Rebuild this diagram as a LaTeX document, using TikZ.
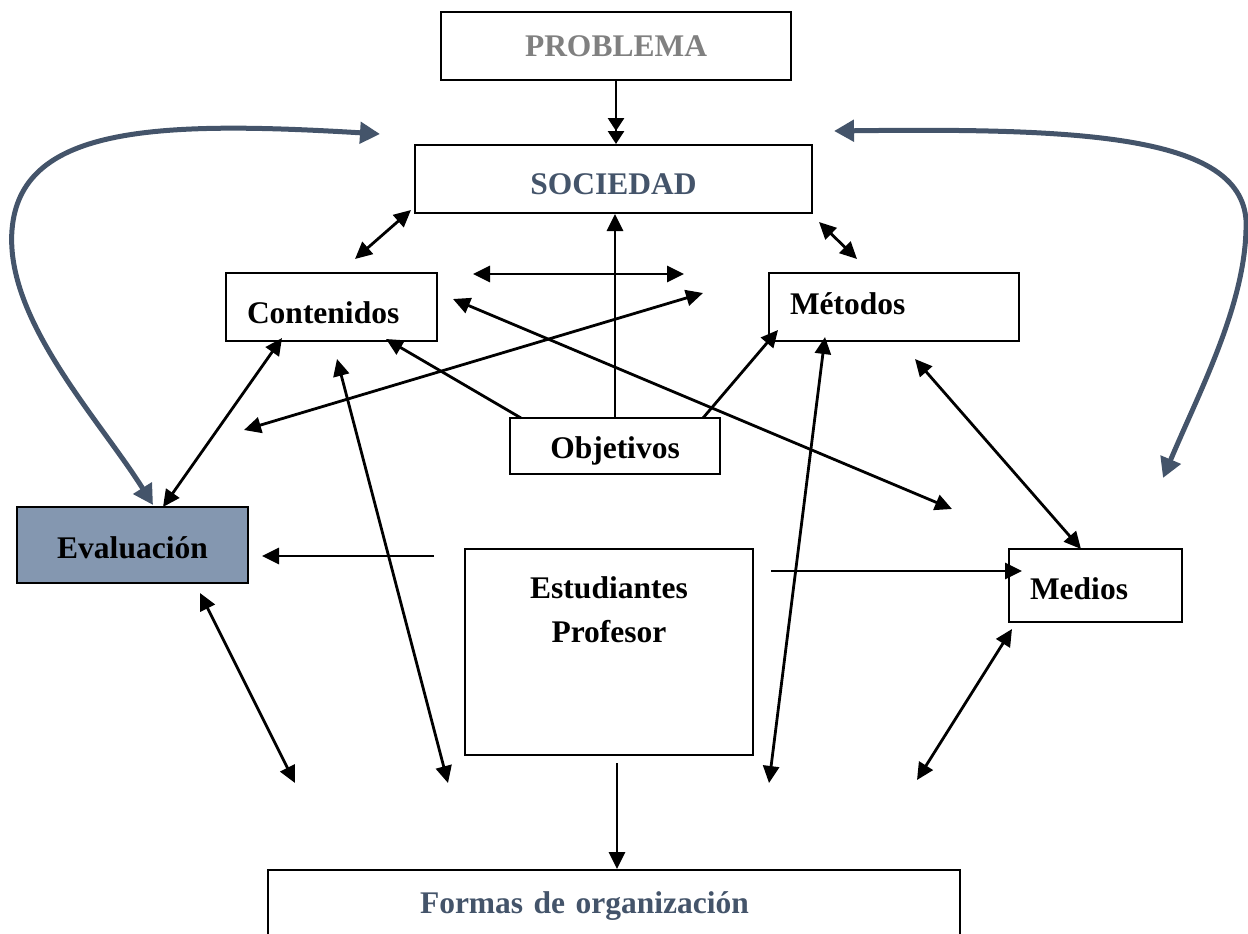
\documentclass[tikz,border=0pt]{standalone}
\usepackage{fontspec}
\setmainfont{Liberation Serif}
\usetikzlibrary{arrows.meta}
\definecolor{slate}{HTML}{44546A}
\definecolor{slatefill}{HTML}{8497B0}
\definecolor{probgray}{HTML}{808080}

\begin{document}
\begin{tikzpicture}[x=1pt, y=-1pt,
	box/.style={draw, line width=2pt, inner sep=0pt, font=\bfseries\fontsize{31.5}{38}\selectfont},
	txt/.style={inner sep=0pt, font=\bfseries\fontsize{31.5}{44}\selectfont},
	arr/.style={line width=2.8pt, -{Triangle[length=17pt,width=16pt]}},
	darr/.style={line width=2.8pt, {Triangle[length=17pt,width=16pt]}-{Triangle[length=17pt,width=16pt]}},
	bigarr/.style={draw=slate, line width=5pt, {Triangle[length=20pt,width=21pt]}-{Triangle[length=20pt,width=21pt]}}]
				\clip (0,0) rectangle (1248,934);
				% boxes
				\node[box, minimum width=350pt, minimum height=68pt, text=probgray] (prob) at (616,46) {PROBLEMA};
				\node[box, minimum width=397pt, minimum height=68pt, text=slate, text height=31pt, text depth=0pt] (soc) at (613.5,179) {SOCIEDAD};
				\node[box, minimum width=211pt, minimum height=68pt, text width=169pt, align=left, text height=32pt, text depth=0pt] (cont) at (331.5,307) {Contenidos};
				\node[box, minimum width=250pt, minimum height=68pt, text width=208pt, align=left, text height=23pt, text depth=8pt] (met) at (894,307) {Métodos};
				\node[box, minimum width=210pt, minimum height=56pt, text height=31.5pt, text depth=6.5pt] (obj) at (615,446) {Objetivos};
				\node[box, fill=slatefill, minimum width=231pt, minimum height=76pt, text height=27pt, text depth=0pt] (eval) at (132.5,545) {Evaluación};
				\node[box, minimum width=173pt, minimum height=73pt, text width=131pt, align=left, text height=27.5pt, text depth=0pt] (med) at (1095.5,585.5) {Medios};
				\node[box, minimum width=288pt, minimum height=206pt] (estu) at (609,652) {};
				\node[txt, align=center] (estutxt) at (609,610) {Estudiantes\\Profesor};
				\node[box, anchor=north, text=slate, minimum width=692pt, text width=388pt, align=left, text height=43pt, text depth=48pt] (formas) at (614,869) {Formas de organización};
				% loose arrow ends
				\coordinate (A1) at (355,259);
				\coordinate (A2) at (411,210);
				\coordinate (B1) at (819,222);
				\coordinate (B2) at (857,259);
				\coordinate (C1) at (473,274);
				\coordinate (C2) at (684,274);
				\coordinate (D1) at (521,418);
				\coordinate (D2) at (386,339);
				\coordinate (E1) at (703,418);
				\coordinate (E2) at (778,330);
				\coordinate (F1) at (244,430);
				\coordinate (F2) at (703,293);
				\coordinate (G1) at (453,299);
				\coordinate (G2) at (952,509);
				\coordinate (H1) at (282,338);
				\coordinate (H2) at (163,507);
				\coordinate (I1) at (337,359);
				\coordinate (I2) at (448,783);
				\coordinate (J1) at (825,337);
				\coordinate (J2) at (769,783);
				\coordinate (K1) at (915,359);
				\coordinate (K2) at (1081,549);
				\coordinate (L1) at (434,556);
				\coordinate (L2) at (262,556);
				\coordinate (M1) at (771,571);
				\coordinate (M2) at (1022,571);
				\coordinate (N1) at (200,593);
				\coordinate (N2) at (295,783);
				\coordinate (O1) at (1012,629);
				\coordinate (O2) at (917,780);
				\coordinate (P1) at (617,763);
				% big loops
				\coordinate (cA) at (380,134);
				\coordinate (cB) at (153,505);
				\coordinate (cC) at (834,131);
				\coordinate (cD) at (1163,478);
				% connectors
				\draw[line width=2.8pt, -{Triangle[length=13pt,width=16pt] Triangle[length=13pt,width=16pt]}] (prob.south) -- (prob.south |- soc.north);
				\draw[arr] (obj.north) -- (obj.north |- soc.south);
				\draw[darr] (A1) -- (A2);
				\draw[darr] (B1) -- (B2);
				\draw[darr] (C1) -- (C2);
				\draw[arr] (D1) -- (D2);
				\draw[arr] (E1) -- (E2);
				\draw[darr] (F1) -- (F2);
				\draw[darr] (G1) -- (G2);
				\draw[darr] (H1) -- (H2);
				\draw[darr] (I1) -- (I2);
				\draw[darr] (J1) -- (J2);
				\draw[darr] (K1) -- (K2);
				\draw[arr] (L1) -- (L2);
				\draw[arr] (M1) -- (M2);
				\draw[darr] (N1) -- (N2);
				\draw[darr] (O1) -- (O2);
				\draw[arr] (P1) -- (P1 |- formas.north);
				\draw[bigarr] (cA) .. controls (150,120) and (20,128) .. (12,230) .. controls (5,320) and (100,420) .. (cB);
				\draw[bigarr] (cC) .. controls (1080,128) and (1240,135) .. (1246,220) .. controls (1248,300) and (1200,390) .. (cD);
			\end{tikzpicture}
\end{document}
